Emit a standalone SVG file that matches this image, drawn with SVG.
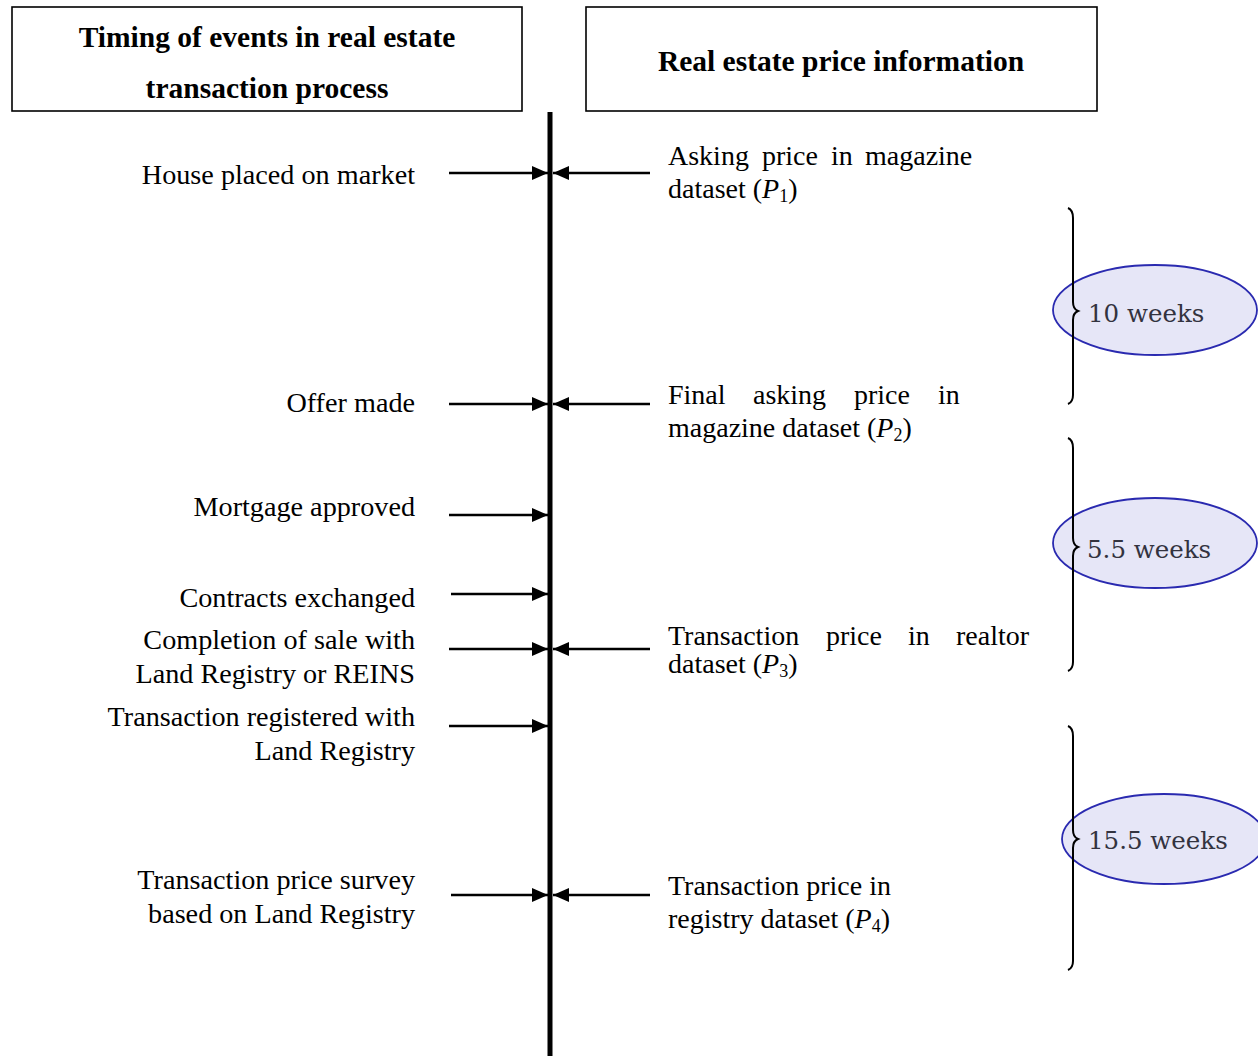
<svg xmlns="http://www.w3.org/2000/svg" width="1258" height="1056" viewBox="0 0 1258 1056">
<style>
.box{fill:#fff;stroke:#000;stroke-width:1.6}
.title{font-family:"Liberation Serif",serif;font-weight:bold;font-size:29.5px;fill:#000;text-anchor:middle}
.lt{font-family:"Liberation Serif",serif;font-size:28.2px;fill:#000;text-anchor:end}
.rt{font-family:"Liberation Serif",serif;font-size:28px;fill:#000}
.it{font-style:italic}
.sub{font-size:18px}
.conn{stroke:#000;stroke-width:2.6;fill:none;marker-end:url(#ah)}
.brace{stroke:#000;stroke-width:2;fill:none}
.ell{fill:#e6e6f7;stroke:#2a2ab0;stroke-width:1.8}
.wk{font-family:"DejaVu Serif",serif;font-size:24.5px;fill:#33333f}
</style>
<defs>
<marker id="ah" viewBox="0 0 16 14" refX="16" refY="7" markerWidth="16" markerHeight="14" markerUnits="userSpaceOnUse" orient="auto">
<path d="M0,0 L16,7 L0,14 z" fill="#000"/>
</marker>
</defs>
<rect width="1258" height="1056" fill="#fff"/>

<g id="header-left">
<rect class="box" x="12" y="7" width="510" height="104"/>
<text class="title" x="267" y="47">Timing of events in real estate</text>
<text class="title" x="267" y="98">transaction process</text>
</g>
<g id="header-right">
<rect class="box" x="586" y="7" width="511" height="104"/>
<text class="title" x="841" y="71">Real estate price information</text>
</g>

<g id="timeline">
<line x1="550" y1="112" x2="550" y2="1056" stroke="#000" stroke-width="5"/>
</g>

<g id="connectors">
<line class="conn" x1="449" y1="173" x2="548" y2="173"/>
<line class="conn" x1="650" y1="173" x2="553" y2="173"/>
<line class="conn" x1="449" y1="404" x2="548" y2="404"/>
<line class="conn" x1="650" y1="404" x2="553" y2="404"/>
<line class="conn" x1="449" y1="515" x2="548" y2="515"/>
<line class="conn" x1="451" y1="594" x2="548" y2="594"/>
<line class="conn" x1="449" y1="649" x2="548" y2="649"/>
<line class="conn" x1="650" y1="649" x2="553" y2="649"/>
<line class="conn" x1="449" y1="726" x2="548" y2="726"/>
<line class="conn" x1="451" y1="895" x2="548" y2="895"/>
<line class="conn" x1="650" y1="895" x2="553" y2="895"/>
</g>

<g id="ev-market"><text class="lt" x="415" y="184">House placed on market</text></g>
<g id="ev-offer"><text class="lt" x="415" y="412">Offer made</text></g>
<g id="ev-mortgage"><text class="lt" x="415" y="516">Mortgage approved</text></g>
<g id="ev-contracts"><text class="lt" x="415" y="607">Contracts exchanged</text></g>
<g id="ev-completion"><text class="lt" x="415" y="649">Completion of sale with</text><text class="lt" x="415" y="683">Land Registry or REINS</text></g>
<g id="ev-registered"><text class="lt" x="415" y="726">Transaction registered with</text><text class="lt" x="415" y="760">Land Registry</text></g>
<g id="ev-survey"><text class="lt" x="415" y="889">Transaction price survey</text><text class="lt" x="415" y="923">based on Land Registry</text></g>

<g id="p1">
<text class="rt" y="165"><tspan x="668">Asking</tspan><tspan x="762">price</tspan><tspan x="831">in</tspan><tspan x="865">magazine</tspan></text>
<text class="rt" x="668" y="198">dataset (<tspan class="it">P</tspan><tspan class="sub" dy="4">1</tspan><tspan dy="-4">)</tspan></text>
</g>
<g id="p2">
<text class="rt" y="404"><tspan x="668">Final</tspan><tspan x="753">asking</tspan><tspan x="854">price</tspan><tspan x="938">in</tspan></text>
<text class="rt" x="668" y="437">magazine dataset (<tspan class="it">P</tspan><tspan class="sub" dy="4">2</tspan><tspan dy="-4">)</tspan></text>
</g>
<g id="p3">
<text class="rt" y="645"><tspan x="668">Transaction</tspan><tspan x="826">price</tspan><tspan x="908">in</tspan><tspan x="956">realtor</tspan></text>
<text class="rt" x="668" y="673">dataset (<tspan class="it">P</tspan><tspan class="sub" dy="4">3</tspan><tspan dy="-4">)</tspan></text>
</g>
<g id="p4">
<text class="rt" x="668" y="895">Transaction price in</text>
<text class="rt" x="668" y="928">registry dataset (<tspan class="it">P</tspan><tspan class="sub" dy="4">4</tspan><tspan dy="-4">)</tspan></text>
</g>

<g id="span-10">
<ellipse class="ell" cx="1155" cy="310" rx="102" ry="45"/>
<path class="brace" d="M1068,208 Q1073,210 1073,218 L1073,302 Q1073,309 1078,311 Q1073,313 1073,320 L1073,395 Q1073,402 1068,404"/>
<text class="wk" x="1088" y="322">10 weeks</text>
</g>
<g id="span-5-5">
<ellipse class="ell" cx="1155" cy="543" rx="102" ry="45"/>
<path class="brace" d="M1068,438 Q1073,440 1073,448 L1073,538 Q1073,545 1078,547 Q1073,549 1073,556 L1073,662 Q1073,669 1068,671"/>
<text class="wk" x="1087" y="558">5.5 weeks</text>
</g>
<g id="span-15-5">
<ellipse class="ell" cx="1164" cy="839" rx="102" ry="45"/>
<path class="brace" d="M1068,726 Q1073,728 1073,736 L1073,830 Q1073,837 1078,839 Q1073,841 1073,848 L1073,961 Q1073,968 1068,970"/>
<text class="wk" x="1088" y="849">15.5 weeks</text>
</g>
</svg>
